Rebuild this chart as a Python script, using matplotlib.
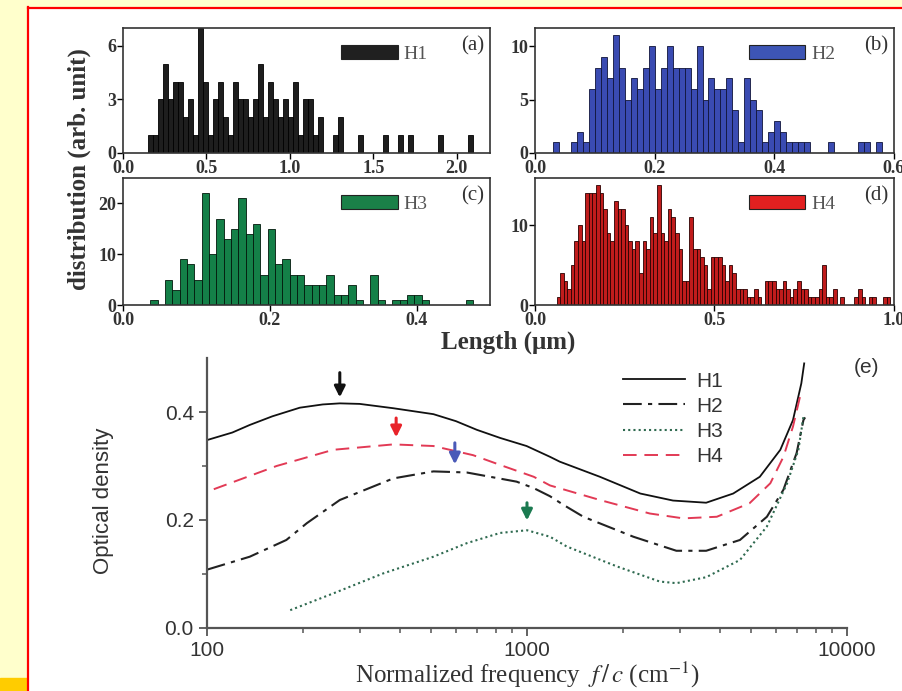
import matplotlib
matplotlib.use('Agg')
import matplotlib.pyplot as plt
from matplotlib.patches import Rectangle
from matplotlib.lines import Line2D

plt.rcParams['font.family'] = 'Liberation Serif'
plt.rcParams['mathtext.fontset'] = 'stix'

# --- histogram data (bin centres in um, counts) ---
h1_x = [0.165, 0.195, 0.225, 0.255, 0.285, 0.315, 0.345, 0.375, 0.405, 0.435,
        0.465, 0.495, 0.525, 0.555, 0.585, 0.615, 0.645, 0.675, 0.705, 0.735,
        0.765, 0.795, 0.825, 0.855, 0.885, 0.915, 0.945, 0.975, 1.005, 1.035,
        1.065, 1.095, 1.125, 1.155, 1.185, 1.275, 1.305, 1.425, 1.575, 1.665,
        1.725, 1.905, 2.085]
h1_n = [1, 1, 3, 5, 3, 4, 4, 2, 3, 1,
        7, 4, 1, 3, 4, 2, 1, 4, 3, 3,
        2, 3, 5, 2, 4, 3, 2, 3, 2, 4,
        1, 3, 3, 1, 2, 1, 2, 1, 1, 1,
        1, 1, 1]

h2_x = [0.035, 0.065, 0.075, 0.085, 0.095, 0.105, 0.115, 0.125, 0.135, 0.145,
        0.155, 0.165, 0.175, 0.185, 0.195, 0.205, 0.215, 0.225, 0.235, 0.245,
        0.255, 0.265, 0.275, 0.285, 0.295, 0.305, 0.315, 0.325, 0.335, 0.345,
        0.355, 0.365, 0.375, 0.385, 0.395, 0.405, 0.415, 0.425, 0.435, 0.445,
        0.455, 0.495, 0.545, 0.555, 0.575]
h2_n = [1, 1, 2, 1, 6, 8, 9, 7, 11, 8,
        5, 7, 6, 8, 10, 6, 8, 10, 8, 8,
        8, 6, 10, 5, 7, 6, 6, 7, 4, 1,
        7, 5, 4, 1, 2, 3, 2, 1, 1, 1,
        1, 1, 1, 1, 1]

h3_x = [0.042, 0.062, 0.072, 0.082, 0.092, 0.102, 0.112, 0.122, 0.132, 0.142,
        0.152, 0.162, 0.172, 0.182, 0.192, 0.202, 0.212, 0.222, 0.232, 0.242,
        0.252, 0.262, 0.272, 0.282, 0.292, 0.302, 0.312, 0.322, 0.342, 0.352,
        0.372, 0.382, 0.392, 0.402, 0.412, 0.472]
h3_n = [1, 5, 3, 9, 8, 5, 22, 10, 17, 13,
        15, 21, 14, 16, 6, 15, 8, 9, 6, 6,
        4, 4, 4, 6, 2, 2, 4, 1, 6, 1,
        1, 1, 2, 2, 1, 1]

h4_x = [0.065, 0.075, 0.085, 0.095, 0.105, 0.115, 0.125, 0.135, 0.145, 0.155,
        0.165, 0.175, 0.185, 0.195, 0.205, 0.215, 0.225, 0.235, 0.245, 0.255,
        0.265, 0.275, 0.285, 0.295, 0.305, 0.315, 0.325, 0.335, 0.345, 0.355,
        0.365, 0.375, 0.385, 0.395, 0.405, 0.415, 0.425, 0.435, 0.445, 0.455,
        0.465, 0.475, 0.485, 0.495, 0.505, 0.515, 0.525, 0.535, 0.545, 0.555,
        0.565, 0.575, 0.585, 0.595, 0.605, 0.615, 0.625, 0.645, 0.655, 0.665,
        0.675, 0.685, 0.695, 0.705, 0.715, 0.725, 0.735, 0.745, 0.755, 0.765,
        0.775, 0.785, 0.795, 0.805, 0.815, 0.825, 0.835, 0.855, 0.895, 0.905,
        0.915, 0.935, 0.945, 0.975, 0.985]
h4_n = [1, 4, 3, 2, 5, 8, 10, 8, 14, 14,
        14, 15, 14, 12, 9, 8, 13, 12, 12, 10,
        8, 7, 8, 4, 8, 7, 11, 9, 15, 9,
        8, 12, 11, 9, 7, 3, 3, 11, 7, 7,
        6, 5, 2, 6, 6, 6, 5, 3, 5, 4,
        2, 2, 2, 1, 1, 2, 1, 3, 3, 3,
        2, 2, 3, 2, 1, 2, 3, 2, 2, 1,
        1, 1, 2, 5, 1, 1, 2, 1, 1, 2,
        1, 1, 1, 1, 1]

# --- optical density curves (frequency in cm^-1, OD) ---
f_h1 = [100, 120, 136, 160, 195, 230, 260, 300, 382, 510, 600, 697, 824, 997,
        1180, 1266, 1690, 2260, 2860, 3630, 4410, 5340, 6190, 6780, 7200, 7350]
od_h1 = [0.348, 0.362, 0.376, 0.392, 0.408, 0.414, 0.416, 0.415, 0.407, 0.396,
         0.383, 0.367, 0.352, 0.337, 0.317, 0.308, 0.280, 0.249, 0.236, 0.232,
         0.249, 0.280, 0.330, 0.385, 0.453, 0.490]
f_h2 = [100, 136, 177, 205, 260, 382, 510, 648, 928, 1050, 1180, 1300, 1500, 2150,
        2930, 3630, 4630, 5620, 6330, 6960, 7310, 7400]
od_h2 = [0.108, 0.132, 0.163, 0.194, 0.237, 0.277, 0.290, 0.288, 0.271, 0.259,
         0.244, 0.228, 0.206, 0.169, 0.143, 0.143, 0.163, 0.206, 0.256, 0.324,
         0.385, 0.390]
f_h3 = [182, 248, 355, 510, 648, 824, 1000, 1180, 1330, 1910, 2600, 2930, 3630,
        4630, 5620, 6500, 7050, 7310]
od_h3 = [0.033, 0.064, 0.101, 0.132, 0.157, 0.176, 0.181, 0.169, 0.151, 0.114,
         0.086, 0.083, 0.094, 0.126, 0.188, 0.268, 0.330, 0.391]
f_h4 = [105, 165, 248, 382, 510, 679, 824, 1050, 1180, 1690, 2420, 3080, 3920,
        4960, 5760, 6330, 6780, 7130, 7250]
od_h4 = [0.257, 0.300, 0.330, 0.340, 0.337, 0.320, 0.302, 0.280, 0.264, 0.237,
         0.212, 0.203, 0.206, 0.231, 0.268, 0.317, 0.373, 0.428, 0.440]

# arrows marking the peaks
peak_f = [260, 390, 595, 1000]
peak_tip = [0.422, 0.348, 0.298, 0.194]
peak_tail = [0.478, 0.394, 0.348, 0.237]
peak_col = ['#111111', '#e8232a', '#4a5ab8', '#1b7a50']

fig = plt.figure(figsize=(9.02, 6.91), dpi=100)

# page decoration: yellow margin and red frame
fig.patches.append(Rectangle((0, 0), 27 / 902, 1, transform=fig.transFigure,
                             color='#ffffcc', zorder=0))
fig.patches.append(Rectangle((0, 1 - 7 / 691), 1, 7 / 691, transform=fig.transFigure,
                             color='#ffffcc', zorder=0))
fig.patches.append(Rectangle((0, 0), 27 / 902, 13 / 691, transform=fig.transFigure,
                             color='#ffcc00', zorder=1))
fig.lines.append(Line2D([27.5 / 902, 27.5 / 902], [0, 1 - 7 / 691],
                        transform=fig.transFigure, color='red', lw=1.6))
fig.lines.append(Line2D([27.5 / 902, 1], [1 - 7.5 / 691, 1 - 7.5 / 691],
                        transform=fig.transFigure, color='red', lw=1.6))

panels = [
    ([0.1364, 0.7786, 0.4069, 0.1809], h1_x, h1_n, 0.03, '#1e1e1e', '#000000', '#202020',
     'H1', '(a)', (0, 2.2), (0, 7), [0, 3, 6], [0.0, 0.5, 1.0, 1.5, 2.0]),
    ([0.5931, 0.7786, 0.3980, 0.1809], h2_x, h2_n, 0.01, '#3a4bb2', '#10143a', '#3d55b5',
     'H2', '(b)', (0, 0.6), (0, 11.7), [0, 5, 10], [0.0, 0.2, 0.4, 0.6]),
    ([0.1364, 0.5586, 0.4069, 0.1838], h3_x, h3_n, 0.01, '#148048', '#02180c', '#1a8048',
     'H3', '(c)', (0, 0.5), (0, 25), [0, 10, 20], [0.0, 0.2, 0.4]),
    ([0.5931, 0.5586, 0.3980, 0.1838], h4_x, h4_n, 0.01, '#c01c1c', '#2a0000', '#e22020',
     'H4', '(d)', (0, 1.0), (0, 15.9), [0, 10], [0.0, 0.5, 1.0]),
]

for rect, xs, ns, w, fc, ec, lc, name, tag, xl, yl, yt, xt in panels:
    ax = fig.add_axes(rect)
    ax.bar(xs, ns, width=w, color=fc, edgecolor=ec, linewidth=0.6)
    ax.set_xlim(*xl)
    ax.set_ylim(*yl)
    ax.set_yticks(yt)
    ax.set_xticks(xt)
    ax.set_xticklabels(['%.1f' % v for v in xt])
    for lab in ax.get_xticklabels() + ax.get_yticklabels():
        lab.set_fontweight('bold')
        lab.set_fontsize(13)
        lab.set_color('#333333')
    ax.tick_params(direction='out', length=4, width=1, pad=1)
    for s in ax.spines.values():
        s.set_linewidth(1.2)
        s.set_color('#333333')
    handle = Rectangle((0, 0), 1, 1, facecolor=lc, edgecolor='#222222', lw=0.8)
    ax.legend([handle], [name], loc='upper left', bbox_to_anchor=(0.55, 1.0),
              frameon=False, fontsize=14, handlelength=2.9, handleheight=0.8,
              handletextpad=0.3, borderpad=0.35, labelcolor='#555555')
    ax.text(0.985, 0.86, tag, transform=ax.transAxes, ha='right', va='center',
            fontsize=15, color='#333333')

fig.text(0.088, 0.755, 'distribution (arb. unit)', rotation=90, ha='center',
         va='center', fontsize=18, fontweight='bold', color='#333333')
fig.text(0.563, 0.505, 'Length (\u03bcm)', ha='center', va='center',
         fontsize=18, fontweight='bold', color='#333333')

# --- panel (e) ---
ax = fig.add_axes([0.2295, 0.0912, 0.7095, 0.3907])
ax.plot(f_h1, od_h1, color='#111111', lw=1.3, label='H1')
ax.plot(f_h2, od_h2, color='#222222', lw=1.5, dashes=(9, 3, 2, 3), label='H2')
ax.plot(f_h3, od_h3, color='#2f6a50', lw=1.5, linestyle=(0, (1, 1.5)), label='H3')
ax.plot(f_h4, od_h4, color='#e23a55', lw=1.4, dashes=(7, 4), label='H4')

for f, tip, tail, c in zip(peak_f, peak_tip, peak_tail, peak_col):
    ax.annotate('', xy=(f, tip), xytext=(f, tail),
                arrowprops=dict(arrowstyle='-|>', color=c, lw=2.2, mutation_scale=16))

ax.set_xscale('log')
ax.set_xlim(100, 10000)
ax.set_ylim(0, 0.5)
ax.set_yticks([0.0, 0.2, 0.4])
ax.set_yticks([0.1, 0.3], minor=True)
ax.set_yticklabels(['0.0', '0.2', '0.4'])
ax.set_xticks([100, 1000, 10000])
ax.set_xticklabels(['100', '1000', '10000'])
for lab in ax.get_xticklabels() + ax.get_yticklabels():
    lab.set_fontfamily('Liberation Sans')
    lab.set_fontsize(15)
    lab.set_color('#333333')
ax.tick_params(which='major', direction='out', length=6, width=1.3, color='#555555')
ax.tick_params(which='minor', direction='out', length=3.5, width=1.1, color='#555555')
for side in ['top', 'right']:
    ax.spines[side].set_visible(False)
for side in ['left', 'bottom']:
    ax.spines[side].set_linewidth(1.6)
    ax.spines[side].set_color('#555555')

ax.set_ylabel('Optical density', fontfamily='Liberation Sans', fontsize=16,
              color='#333333')
ax.yaxis.set_label_coords(-0.145, 0.47)
ax.set_xlabel('Normalized frequency  $f\\,/\\,c$ (cm$^{-1}$)', fontsize=18,
              color='#333333')
ax.xaxis.set_label_coords(0.5, -0.118)

leg = ax.legend(loc='upper left', bbox_to_anchor=(0.65, 0.95), frameon=False,
                borderaxespad=0, borderpad=0, handlelength=3.0, handletextpad=0.5,
                labelspacing=0.3, prop={'family': 'Liberation Sans', 'size': 15})
for t in leg.get_texts():
    t.set_color('#333333')
ax.text(1.03, 0.963, '(e)', transform=ax.transAxes, ha='center', va='center',
        fontsize=15, fontfamily='Liberation Sans', color='#333333')

fig.savefig('out.png', dpi=100)
